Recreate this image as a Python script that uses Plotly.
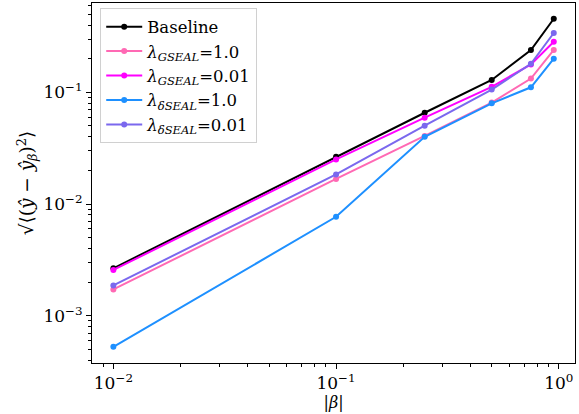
import plotly.graph_objects as go

beta = [0.01, 0.1, 0.25, 0.5, 0.75, 0.95]
baseline = [0.00266, 0.0265, 0.0657, 0.129, 0.239, 0.456]
gseal_1 = [0.00172, 0.0168, 0.0407, 0.081, 0.133, 0.240]
gseal_001 = [0.00257, 0.0251, 0.0593, 0.112, 0.178, 0.284]
dseal_1 = [0.000527, 0.00769, 0.0400, 0.0797, 0.111, 0.200]
dseal_001 = [0.00187, 0.0184, 0.0503, 0.106, 0.180, 0.340]

series = [
    ("Baseline", baseline, "#000000"),
    ("<i>λ</i><sub><i>GSEAL</i></sub>=1.0", gseal_1, "#ff69b4"),
    ("<i>λ</i><sub><i>GSEAL</i></sub>=0.01", gseal_001, "#ff00ff"),
    ("<i>λ</i><sub><i>δSEAL</i></sub>=1.0", dseal_1, "#1e90ff"),
    ("<i>λ</i><sub><i>δSEAL</i></sub>=0.01", dseal_001, "#7b68ee"),
]

x_tickvals = [0.01, 0.1, 1]
x_ticktext = ["10<sup>−2</sup>", "10<sup>−1</sup>", "10<sup>0</sup>"]
y_tickvals = [0.001, 0.01, 0.1]
y_ticktext = ["10<sup>−3</sup>", "10<sup>−2</sup>", "10<sup>−1</sup>"]

fig = go.Figure()
for name, vals, color in series:
    fig.add_trace(go.Scatter(
        x=beta, y=vals, name=name, mode="lines+markers",
        line=dict(color=color, width=2),
        marker=dict(color=color, size=6),
    ))

font = dict(family="DejaVu Serif", size=15, color="black")
tickfont = dict(family="DejaVu Serif", size=17, color="black")
fig.update_layout(
    width=579, height=414,
    margin=dict(l=92, r=4, t=3, b=51),
    paper_bgcolor="white", plot_bgcolor="white",
    font=font,
    showlegend=True,
    legend=dict(
        x=0.017, y=0.985, xanchor="left", yanchor="top",
        bgcolor="rgba(255,255,255,0.8)", bordercolor="#d0d0d0", borderwidth=1,
        font=dict(family="DejaVu Serif", size=16.5),
        itemwidth=36, tracegroupgap=0,
    ),
    xaxis=dict(
        type="log", range=[-2.096, 0.073], automargin=False,
        tickvals=x_tickvals, ticktext=x_ticktext, tickfont=tickfont,
        ticks="outside", ticklen=5, tickwidth=1, tickcolor="black",
        minor=dict(ticks="outside", ticklen=3, tickcolor="black", dtick="D1", showgrid=False),
        showline=True, linecolor="black", linewidth=1, mirror=True,
        showgrid=False, zeroline=False,
        title=dict(text="|<i>β</i>|", standoff=2, font=dict(family="DejaVu Serif", size=16)),
    ),
    yaxis=dict(
        type="log", range=[-3.423, -0.2], automargin=False,
        tickvals=y_tickvals, ticktext=y_ticktext, tickfont=tickfont,
        ticks="outside", ticklen=5, tickwidth=1, tickcolor="black",
        minor=dict(ticks="outside", ticklen=3, tickcolor="black", dtick="D1", showgrid=False),
        showline=True, linecolor="black", linewidth=1, mirror=True,
        showgrid=False, zeroline=False,
        title=dict(text="√⟨(<i>ŷ</i> − <i>ŷ</i><sub><i>β</i></sub>)<sup>2</sup>⟩", standoff=4,
                   font=dict(family="DejaVu Serif", size=18.5)),
    ),
)

fig.write_html(
    "out.html",
    config={"displayModeBar": False},
    post_script="document.body.style.margin='0px';document.body.style.overflow='hidden';",
)
